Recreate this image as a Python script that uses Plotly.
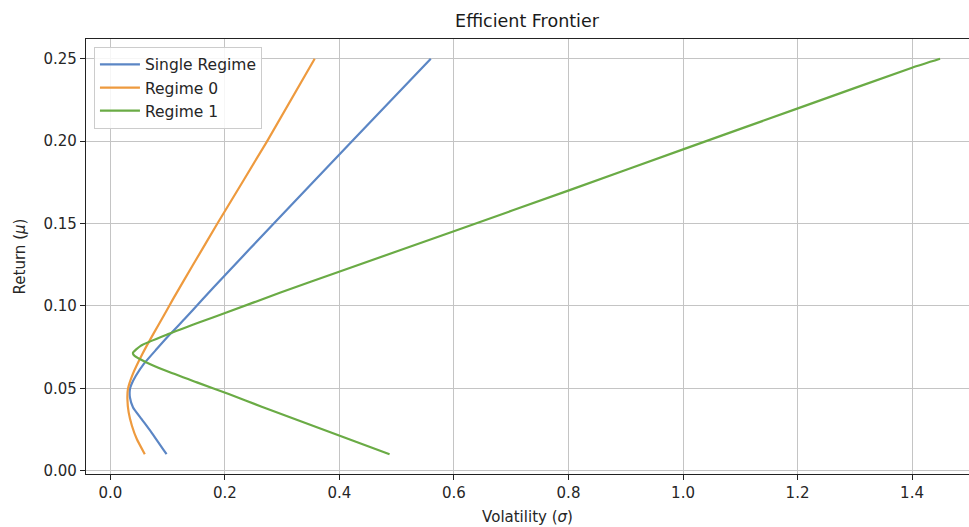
import plotly.graph_objects as go

# Single Regime frontier
single_mu = [0.010, 0.0233, 0.0313, 0.0384, 0.0445, 0.0495, 0.052, 0.0576, 0.0647,
             0.0738, 0.0829, 0.0919, 0.104, 0.1182, 0.150, 0.1996, 0.250]
single_sigma = [0.098, 0.0715, 0.0545, 0.0395, 0.0340, 0.0340, 0.0362, 0.0444, 0.058,
                0.0808, 0.1043, 0.129, 0.161, 0.1988, 0.2853, 0.421, 0.5595]

# Regime 0 frontier
r0_mu = [0.010, 0.0192, 0.0273, 0.0354, 0.0435, 0.0495, 0.0586, 0.0707, 0.0835,
         0.094, 0.104, 0.1242, 0.150, 0.1996, 0.250]
r0_sigma = [0.060, 0.046, 0.0375, 0.0318, 0.0296, 0.0305, 0.039, 0.0555, 0.0757,
            0.093, 0.109, 0.143, 0.1868, 0.273, 0.3567]

# Regime 1 frontier
r1_mu = [0.010, 0.039, 0.0465, 0.0536, 0.0606, 0.0657, 0.0697, 0.0715, 0.0758,
         0.0829, 0.0899, 0.096, 0.1081, 0.1212, 0.1455, 0.1703, 0.1956, 0.2202,
         0.2446, 0.250]
r1_sigma = [0.4875, 0.263, 0.2066, 0.151, 0.097, 0.063, 0.0419, 0.0393, 0.0528,
            0.101, 0.1544, 0.2026, 0.297, 0.403, 0.601, 0.802, 1.005, 1.203,
            1.400, 1.449]

series = [
    ("Single Regime", single_sigma, single_mu, "#5b86c5"),
    ("Regime 0", r0_sigma, r0_mu, "#ee9a3e"),
    ("Regime 1", r1_sigma, r1_mu, "#6aab45"),
]

x_ticks = [0.0, 0.2, 0.4, 0.6, 0.8, 1.0, 1.2, 1.4]
y_ticks = [0.00, 0.05, 0.10, 0.15, 0.20, 0.25]

fig = go.Figure()
for name, xs, ys, col in series:
    fig.add_trace(go.Scatter(
        x=xs, y=ys, mode="lines", name=name,
        line=dict(color=col, width=2.2, shape="spline", smoothing=0.5),
    ))

font_family = "DejaVu Sans, sans-serif"
fig.update_layout(
    width=969, height=527, autosize=False,
    margin=dict(l=86, r=0, t=39, b=53, pad=0),
    paper_bgcolor="white", plot_bgcolor="white",
    font=dict(family=font_family, size=15, color="#262626"),
    title=dict(text="Efficient Frontier", x=527 / 969, xanchor="center", xref="container",
               y=1 - 21 / 527, yanchor="middle", yref="container",
               font=dict(size=17.5, color="#1a1a1a")),
    showlegend=True,
    legend=dict(x=0.009, y=0.982, xanchor="left", yanchor="top",
                bgcolor="rgba(255,255,255,0.85)", bordercolor="#cccccc",
                borderwidth=1, font=dict(size=15.5, color="#262626"),
                tracegroupgap=0, itemwidth=40),
)
fig.update_xaxes(
    range=[-0.0427, 1.4995], tickvals=x_ticks, tickformat=".1f", automargin=False,
    showgrid=True, gridcolor="#c4c4c4", gridwidth=1.2, zeroline=False,
    showline=True, linecolor="#222222", linewidth=1.2, mirror=True,
    ticks="outside", ticklen=5, tickcolor="#222222", tickwidth=1.2,
    title=dict(text="Volatility (<i>σ</i>)", font=dict(size=15), standoff=10),
)
fig.update_yaxes(
    range=[-0.002, 0.262], tickvals=y_ticks, tickformat=".2f", automargin=False,
    showgrid=True, gridcolor="#c4c4c4", gridwidth=1.2, zeroline=False,
    showline=True, linecolor="#222222", linewidth=1.2, mirror=False,
    ticks="outside", ticklen=5, tickcolor="#222222", tickwidth=1.2,
    title=dict(text="Return (<i>μ</i>)", font=dict(size=15), standoff=14),
)

fig.write_html("out.html", config={"displayModeBar": False},
               post_script="document.body.style.margin='0';document.body.style.overflow='hidden';")
